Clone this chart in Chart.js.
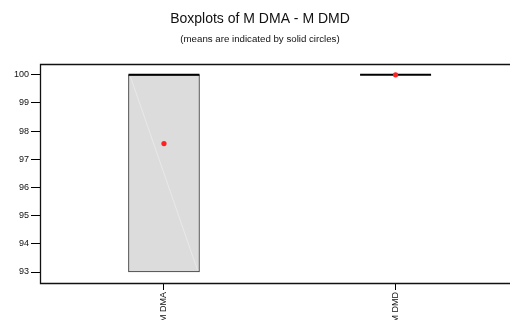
<!DOCTYPE html>
<html><head><meta charset="utf-8">
<script src="https://cdn.jsdelivr.net/npm/chart.js@4"></script>
<style>html,body{margin:0;padding:0;overflow:hidden;background:#fff}#wrap{width:520px;height:320px;position:relative}</style>
</head><body><div id="wrap"><canvas id="c" width="520" height="320"></canvas></div>
<script>
const categories = ['M DMA', 'M DMD'];
const q1Values = [93, 100];
const medianValues = [100, 100];
const q3Values = [100, 100];
const meanValues = [97.56, 100];
const yTicks = [93, 94, 95, 96, 97, 98, 99, 100];
const titleText = 'Boxplots of M DMA - M DMD';
const subtitleText = '(means are indicated by solid circles)';

const FONT = "'Liberation Sans', Arial, sans-serif";

const boxPlugin = {
  id: 'boxExtras',
  afterDatasetDraw(chart, args) {
    if (args.meta.type !== 'bar') return;
    const ctx = chart.ctx;
    const ys = chart.scales.y;
    ctx.save();
    args.meta.data.forEach((el, i) => {
      const l = el.x - el.width / 2, r = el.x + el.width / 2;
      const top = ys.getPixelForValue(q3Values[i]);
      const bot = ys.getPixelForValue(q1Values[i]);
      if (bot - top > 2) {
        ctx.strokeStyle = 'rgba(255,255,255,0.35)';
        ctx.lineWidth = 1;
        ctx.beginPath();
        ctx.moveTo(l + 2, top + 2);
        ctx.lineTo(r - 2, bot - 2);
        ctx.stroke();
      }
      const my = ys.getPixelForValue(medianValues[i]);
      ctx.strokeStyle = '#000';
      ctx.lineWidth = 2;
      ctx.beginPath();
      ctx.moveTo(l, my);
      ctx.lineTo(r, my);
      ctx.stroke();
    });
    ctx.restore();
  },
  beforeDatasetsDraw(chart) {
    const {ctx, chartArea: a} = chart;
    ctx.save();
    ctx.strokeStyle = '#111';
    ctx.lineWidth = 1.3;
    ctx.beginPath();
    ctx.moveTo(a.right + 5, Math.round(a.top) - 0.5);
    ctx.lineTo(Math.round(a.left) - 0.5, Math.round(a.top) - 0.5);
    ctx.lineTo(Math.round(a.left) - 0.5, Math.round(a.bottom) + 0.5);
    ctx.lineTo(a.right + 5, Math.round(a.bottom) + 0.5);
    ctx.stroke();
    ctx.restore();
  }
};

new Chart(document.getElementById('c'), {
  type: 'bar',
  data: {
    datasets: [
      {
        type: 'line',
        showLine: false,
        data: categories.map((c, i) => ({x: i, y: meanValues[i]})),
        pointRadius: 2.6,
        pointBackgroundColor: '#ff2020',
        pointBorderWidth: 0,
        order: 0
      },
      {
        type: 'bar',
        data: categories.map((c, i) => ({x: i, y: [q1Values[i], q3Values[i]]})),
        backgroundColor: '#dcdcdc',
        borderColor: '#333',
        borderWidth: 1,
        borderSkipped: false,
        barThickness: 71,
        order: 1
      }
    ]
  },
  options: {
    responsive: false,
    animation: false,
    devicePixelRatio: 1,
    layout: {padding: 0},
    plugins: {
      legend: {display: false},
      tooltip: {enabled: false},
      title: {
        display: true, text: titleText, color: '#111',
        font: {family: FONT, size: 14, weight: 'normal'},
        padding: {top: 11, bottom: 3}
      },
      subtitle: {
        display: true, text: subtitleText, color: '#111',
        font: {family: FONT, size: 9.7, weight: 'normal'},
        padding: {top: 3, bottom: 19.5}
      }
    },
    scales: {
      x: {
        type: 'linear',
        offset: false,
        min: -0.531,
        max: 1.52,
        afterBuildTicks(s) { s.ticks = categories.map((c, i) => ({value: i})); },
        afterFit(s) { s.height = 37; },
        grid: {display: true, offset: false, drawOnChartArea: false, tickLength: 7, color: '#000', tickColor: '#000'},
        border: {display: false},
        ticks: {
          autoSkip: false, minRotation: 90, maxRotation: 90, padding: 2,
          color: '#111', font: {family: FONT, size: 9},
          callback(v) { return categories[v]; }
        }
      },
      y: {
        min: 92.61,
        max: 100.35,
        afterBuildTicks(s) { s.ticks = yTicks.map(v => ({value: v})); },
        afterFit(s) { s.width = 41; },
        grid: {display: true, drawOnChartArea: false, tickLength: 10, color: '#000', tickColor: '#000'},
        border: {display: false},
        ticks: {padding: 2, color: '#111', font: {family: FONT, size: 9}}
      }
    }
  },
  plugins: [boxPlugin]
});
</script>
</body></html>
